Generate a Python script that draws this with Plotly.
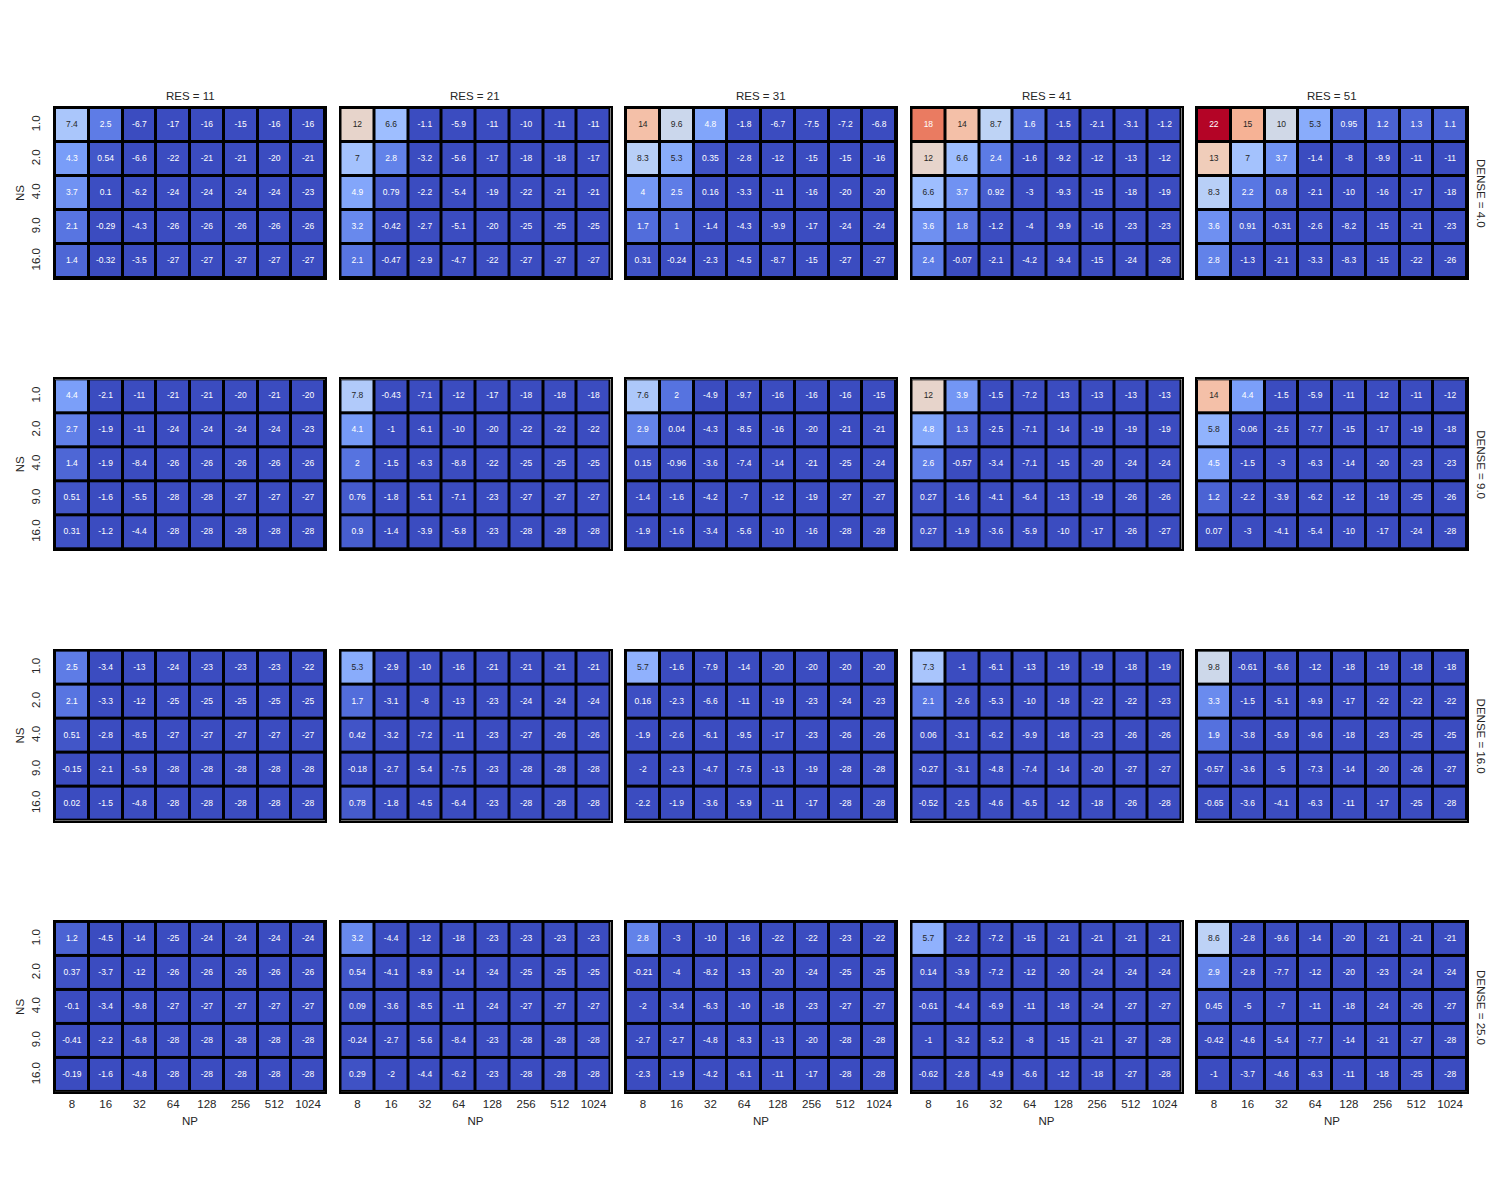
import plotly.graph_objects as go

NP_LABELS = ["8", "16", "32", "64", "128", "256", "512", "1024"]
NS_LABELS = ["1.0", "2.0", "4.0", "9.0", "16.0"]
RES_VALUES = [11, 21, 31, 41, 51]
DENSE_VALUES = [4.0, 9.0, 16.0, 25.0]

# ---- DENSE = 4.0 ----
d4_r11 = [[7.4, 2.5, -6.7, -17, -16, -15, -16, -16],
          [4.3, 0.54, -6.6, -22, -21, -21, -20, -21],
          [3.7, 0.1, -6.2, -24, -24, -24, -24, -23],
          [2.1, -0.29, -4.3, -26, -26, -26, -26, -26],
          [1.4, -0.32, -3.5, -27, -27, -27, -27, -27]]
d4_r21 = [[12, 6.6, -1.1, -5.9, -11, -10, -11, -11],
          [7, 2.8, -3.2, -5.6, -17, -18, -18, -17],
          [4.9, 0.79, -2.2, -5.4, -19, -22, -21, -21],
          [3.2, -0.42, -2.7, -5.1, -20, -25, -25, -25],
          [2.1, -0.47, -2.9, -4.7, -22, -27, -27, -27]]
d4_r31 = [[14, 9.6, 4.8, -1.8, -6.7, -7.5, -7.2, -6.8],
          [8.3, 5.3, 0.35, -2.8, -12, -15, -15, -16],
          [4, 2.5, 0.16, -3.3, -11, -16, -20, -20],
          [1.7, 1, -1.4, -4.3, -9.9, -17, -24, -24],
          [0.31, -0.24, -2.3, -4.5, -8.7, -15, -27, -27]]
d4_r41 = [[18, 14, 8.7, 1.6, -1.5, -2.1, -3.1, -1.2],
          [12, 6.6, 2.4, -1.6, -9.2, -12, -13, -12],
          [6.6, 3.7, 0.92, -3, -9.3, -15, -18, -19],
          [3.6, 1.8, -1.2, -4, -9.9, -16, -23, -23],
          [2.4, -0.07, -2.1, -4.2, -9.4, -15, -24, -26]]
d4_r51 = [[22, 15, 10, 5.3, 0.95, 1.2, 1.3, 1.1],
          [13, 7, 3.7, -1.4, -8, -9.9, -11, -11],
          [8.3, 2.2, 0.8, -2.1, -10, -16, -17, -18],
          [3.6, 0.91, -0.31, -2.6, -8.2, -15, -21, -23],
          [2.8, -1.3, -2.1, -3.3, -8.3, -15, -22, -26]]

# ---- DENSE = 9.0 ----
d9_r11 = [[4.4, -2.1, -11, -21, -21, -20, -21, -20],
          [2.7, -1.9, -11, -24, -24, -24, -24, -23],
          [1.4, -1.9, -8.4, -26, -26, -26, -26, -26],
          [0.51, -1.6, -5.5, -28, -28, -27, -27, -27],
          [0.31, -1.2, -4.4, -28, -28, -28, -28, -28]]
d9_r21 = [[7.8, -0.43, -7.1, -12, -17, -18, -18, -18],
          [4.1, -1, -6.1, -10, -20, -22, -22, -22],
          [2, -1.5, -6.3, -8.8, -22, -25, -25, -25],
          [0.76, -1.8, -5.1, -7.1, -23, -27, -27, -27],
          [0.9, -1.4, -3.9, -5.8, -23, -28, -28, -28]]
d9_r31 = [[7.6, 2, -4.9, -9.7, -16, -16, -16, -15],
          [2.9, 0.04, -4.3, -8.5, -16, -20, -21, -21],
          [0.15, -0.96, -3.6, -7.4, -14, -21, -25, -24],
          [-1.4, -1.6, -4.2, -7, -12, -19, -27, -27],
          [-1.9, -1.6, -3.4, -5.6, -10, -16, -28, -28]]
d9_r41 = [[12, 3.9, -1.5, -7.2, -13, -13, -13, -13],
          [4.8, 1.3, -2.5, -7.1, -14, -19, -19, -19],
          [2.6, -0.57, -3.4, -7.1, -15, -20, -24, -24],
          [0.27, -1.6, -4.1, -6.4, -13, -19, -26, -26],
          [0.27, -1.9, -3.6, -5.9, -10, -17, -26, -27]]
d9_r51 = [[14, 4.4, -1.5, -5.9, -11, -12, -11, -12],
          [5.8, -0.06, -2.5, -7.7, -15, -17, -19, -18],
          [4.5, -1.5, -3, -6.3, -14, -20, -23, -23],
          [1.2, -2.2, -3.9, -6.2, -12, -19, -25, -26],
          [0.07, -3, -4.1, -5.4, -10, -17, -24, -28]]

# ---- DENSE = 16.0 ----
d16_r11 = [[2.5, -3.4, -13, -24, -23, -23, -23, -22],
           [2.1, -3.3, -12, -25, -25, -25, -25, -25],
           [0.51, -2.8, -8.5, -27, -27, -27, -27, -27],
           [-0.15, -2.1, -5.9, -28, -28, -28, -28, -28],
           [0.02, -1.5, -4.8, -28, -28, -28, -28, -28]]
d16_r21 = [[5.3, -2.9, -10, -16, -21, -21, -21, -21],
           [1.7, -3.1, -8, -13, -23, -24, -24, -24],
           [0.42, -3.2, -7.2, -11, -23, -27, -26, -26],
           [-0.18, -2.7, -5.4, -7.5, -23, -28, -28, -28],
           [0.78, -1.8, -4.5, -6.4, -23, -28, -28, -28]]
d16_r31 = [[5.7, -1.6, -7.9, -14, -20, -20, -20, -20],
           [0.16, -2.3, -6.6, -11, -19, -23, -24, -23],
           [-1.9, -2.6, -6.1, -9.5, -17, -23, -26, -26],
           [-2, -2.3, -4.7, -7.5, -13, -19, -28, -28],
           [-2.2, -1.9, -3.6, -5.9, -11, -17, -28, -28]]
d16_r41 = [[7.3, -1, -6.1, -13, -19, -19, -18, -19],
           [2.1, -2.6, -5.3, -10, -18, -22, -22, -23],
           [0.06, -3.1, -6.2, -9.9, -18, -23, -26, -26],
           [-0.27, -3.1, -4.8, -7.4, -14, -20, -27, -27],
           [-0.52, -2.5, -4.6, -6.5, -12, -18, -26, -28]]
d16_r51 = [[9.8, -0.61, -6.6, -12, -18, -19, -18, -18],
           [3.3, -1.5, -5.1, -9.9, -17, -22, -22, -22],
           [1.9, -3.8, -5.9, -9.6, -18, -23, -25, -25],
           [-0.57, -3.6, -5, -7.3, -14, -20, -26, -27],
           [-0.65, -3.6, -4.1, -6.3, -11, -17, -25, -28]]

# ---- DENSE = 25.0 ----
d25_r11 = [[1.2, -4.5, -14, -25, -24, -24, -24, -24],
           [0.37, -3.7, -12, -26, -26, -26, -26, -26],
           [-0.1, -3.4, -9.8, -27, -27, -27, -27, -27],
           [-0.41, -2.2, -6.8, -28, -28, -28, -28, -28],
           [-0.19, -1.6, -4.8, -28, -28, -28, -28, -28]]
d25_r21 = [[3.2, -4.4, -12, -18, -23, -23, -23, -23],
           [0.54, -4.1, -8.9, -14, -24, -25, -25, -25],
           [0.09, -3.6, -8.5, -11, -24, -27, -27, -27],
           [-0.24, -2.7, -5.6, -8.4, -23, -28, -28, -28],
           [0.29, -2, -4.4, -6.2, -23, -28, -28, -28]]
d25_r31 = [[2.8, -3, -10, -16, -22, -22, -23, -22],
           [-0.21, -4, -8.2, -13, -20, -24, -25, -25],
           [-2, -3.4, -6.3, -10, -18, -23, -27, -27],
           [-2.7, -2.7, -4.8, -8.3, -13, -20, -28, -28],
           [-2.3, -1.9, -4.2, -6.1, -11, -17, -28, -28]]
d25_r41 = [[5.7, -2.2, -7.2, -15, -21, -21, -21, -21],
           [0.14, -3.9, -7.2, -12, -20, -24, -24, -24],
           [-0.61, -4.4, -6.9, -11, -18, -24, -27, -27],
           [-1, -3.2, -5.2, -8, -15, -21, -27, -28],
           [-0.62, -2.8, -4.9, -6.6, -12, -18, -27, -28]]
d25_r51 = [[8.6, -2.8, -9.6, -14, -20, -21, -21, -21],
           [2.9, -2.8, -7.7, -12, -20, -23, -24, -24],
           [0.45, -5, -7, -11, -18, -24, -26, -27],
           [-0.42, -4.6, -5.4, -7.7, -14, -21, -27, -28],
           [-1, -3.7, -4.6, -6.3, -11, -18, -25, -28]]

PANELS = [
    [d4_r11, d4_r21, d4_r31, d4_r41, d4_r51],
    [d9_r11, d9_r21, d9_r31, d9_r41, d9_r51],
    [d16_r11, d16_r21, d16_r31, d16_r41, d16_r51],
    [d25_r11, d25_r21, d25_r31, d25_r41, d25_r51],
]

ZMIN, ZMAX = 0.0, 22.0
COOLWARM = ["#3b4cc0", "#5977e3", "#7b9ff9", "#9ebeff", "#c0d4f5", "#dddcdc",
            "#f2cbb7", "#f7ac8e", "#ee8468", "#d65244", "#b40426"]
colorscale = [[i / 10, c] for i, c in enumerate(COOLWARM)]


def hex2rgb(h):
    return tuple(int(h[i:i + 2], 16) for i in (1, 3, 5))


def cmap(v):
    t = min(max((v - ZMIN) / (ZMAX - ZMIN), 0.0), 1.0)
    p = t * 10
    i = min(int(p), 9)
    f = p - i
    a, b = hex2rgb(COOLWARM[i]), hex2rgb(COOLWARM[i + 1])
    return tuple(a[k] + (b[k] - a[k]) * f for k in range(3))


def luminance(rgb):
    out = []
    for c in rgb:
        c = c / 255
        out.append(c / 12.92 if c <= 0.03928 else ((c + 0.055) / 1.055) ** 2.4)
    return 0.2126 * out[0] + 0.7152 * out[1] + 0.0722 * out[2]


W, H = 1500, 1200
OFF = 8  # page body margin
X0, PW, XSTEP = 55 - OFF, 270, 285.5
Y0, PH, YSTEP = 108 - OFF, 170, 271.3
FONT = "Liberation Sans, Arial, sans-serif"
TXT = "#262626"

fig = go.Figure()
layout = dict(width=W, height=H, margin=dict(l=0, r=0, t=0, b=0),
              paper_bgcolor="white", plot_bgcolor="black",
              font=dict(family=FONT, color=TXT, size=11), showlegend=False)
annotations = []

nrows, ncols = len(DENSE_VALUES), len(RES_VALUES)
for r in range(nrows):
    for c in range(ncols):
        idx = r * ncols + c + 1
        xa = "x" if idx == 1 else f"x{idx}"
        ya = "y" if idx == 1 else f"y{idx}"
        z = PANELS[r][c]
        xs = list(range(len(NP_LABELS)))
        ys = list(range(len(NS_LABELS)))
        fig.add_trace(go.Heatmap(z=z, x=xs, y=ys, xaxis=xa, yaxis=ya,
                                 colorscale=colorscale, zmin=ZMIN, zmax=ZMAX,
                                 showscale=False, xgap=3, ygap=3,
                                 hoverinfo="skip"))
        dark_x, dark_y, dark_t, lt_x, lt_y, lt_t = [], [], [], [], [], []
        for i, row in enumerate(z):
            for j, v in enumerate(row):
                s = format(v, ".2g")
                if luminance(cmap(v)) > 0.408:
                    dark_x.append(j); dark_y.append(i); dark_t.append(s)
                else:
                    lt_x.append(j); lt_y.append(i); lt_t.append(s)
        for tx, ty, tt, col in ((dark_x, dark_y, dark_t, TXT), (lt_x, lt_y, lt_t, "white")):
            if tx:
                fig.add_trace(go.Scatter(x=tx, y=ty, text=tt, mode="text",
                                         xaxis=xa, yaxis=ya, hoverinfo="skip",
                                         textfont=dict(size=8.5, color=col, family=FONT)))
        left = X0 + c * XSTEP
        top = Y0 + r * YSTEP
        xdom = [left / W, (left + PW) / W]
        ydom = [1 - (top + PH) / H, 1 - top / H]
        xkey = "xaxis" if idx == 1 else f"xaxis{idx}"
        ykey = "yaxis" if idx == 1 else f"yaxis{idx}"
        bottom_row = r == nrows - 1
        left_col = c == 0
        layout[xkey] = dict(domain=xdom, anchor=ya, range=[-0.5, len(NP_LABELS) - 0.5],
                            tickmode="array", tickvals=xs, ticktext=NP_LABELS,
                            showticklabels=bottom_row, ticks="", showgrid=False,
                            zeroline=False, showline=True, linecolor="black",
                            linewidth=2, mirror=True, fixedrange=True,
                            tickfont=dict(size=11.5, color=TXT),
                            title=dict(text="NP" if bottom_row else "", standoff=8,
                                       font=dict(size=11.5, color=TXT)))
        layout[ykey] = dict(domain=ydom, anchor=xa, range=[len(NS_LABELS) - 0.5, -0.5],
                            tickmode="array", tickvals=ys, ticktext=NS_LABELS,
                            showticklabels=left_col, ticks="", showgrid=False,
                            zeroline=False, showline=True, linecolor="black",
                            linewidth=2, mirror=True, fixedrange=True, tickangle=-90,
                            ticklabelstandoff=8,
                            tickfont=dict(size=11.5, color=TXT),
                            title=dict(text="NS" if left_col else "", standoff=3,
                                       font=dict(size=11.5, color=TXT)))
        if r == 0:
            annotations.append(dict(text=f"RES = {RES_VALUES[c]}", xref="paper", yref="paper",
                                    x=(left + PW / 2) / W, y=1 - (96 - OFF) / H, showarrow=False,
                                    xanchor="center", yanchor="middle",
                                    font=dict(size=11.5, color=TXT)))
        if c == ncols - 1:
            annotations.append(dict(text=f"DENSE = {DENSE_VALUES[r]}", xref="paper", yref="paper",
                                    x=(1481 - OFF) / W, y=1 - (top + PH / 2) / H, showarrow=False,
                                    textangle=90, xanchor="center", yanchor="middle",
                                    font=dict(size=11.5, color=TXT)))

layout["annotations"] = annotations
fig.update_layout(**layout)
fig.write_html("out.html")
